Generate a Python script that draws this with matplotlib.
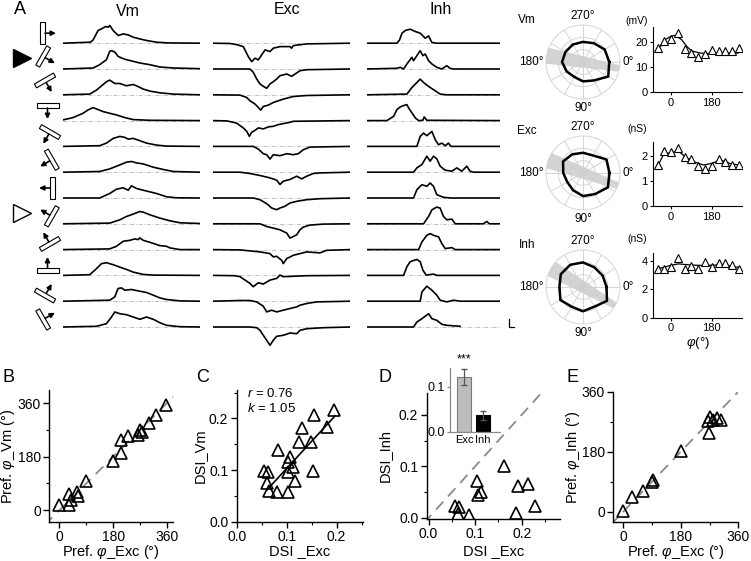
import numpy as np
import matplotlib.pyplot as plt
from matplotlib.patches import Polygon
from matplotlib.ticker import MultipleLocator

plt.rcParams['font.family'] = ['Liberation Sans', 'DejaVu Sans']
plt.rcParams['mathtext.fontset'] = 'custom'
plt.rcParams['mathtext.it'] = 'Liberation Sans:italic'
plt.rcParams['mathtext.rm'] = 'Liberation Sans'

W, H = 751, 561

# ---------------- data ----------------
directions = [0, 30, 60, 90, 120, 150, 180, 210, 240, 270, 300, 330]

# traces: (normalized time, amplitude) keypoints per stimulus direction
vm_traces = [
    [(0, 0), (0.2, 1), (0.22, 3.3), (0.256, 12.7), (0.28, 14.3), (0.312, 16.7), (0.33, 16), (0.342, 17.7), (0.366, 12.7), (0.403, 7.7), (0.44, 9.3), (0.476, 8.3), (0.512, 6), (0.56, 4.3), (0.61, 2.7), (0.683, 1), (0.76, 0.3), (1, 0)],
    [(0, 0), (0.22, 1), (0.268, 4.3), (0.317, 9.3), (0.341, 17.7), (0.354, 18.3), (0.378, 17), (0.402, 12.7), (0.427, 11), (0.463, 9.3), (0.512, 7.7), (0.561, 6), (0.634, 4.3), (0.707, 2), (0.805, 1), (1, 0.3)],
    [(0, 0), (0.195, 0.7), (0.244, 4.7), (0.293, 10.3), (0.317, 13), (0.341, 14.7), (0.378, 11.3), (0.415, 11.3), (0.463, 9), (0.512, 10.3), (0.537, 9), (0.585, 5.7), (0.634, 3.7), (0.707, 2), (0.805, 0.7), (1, 0)],
    [(0, 0.7), (0.073, 3), (0.146, 7.3), (0.183, 10.7), (0.22, 13), (0.244, 11.7), (0.293, 9), (0.341, 7.3), (0.39, 5.7), (0.451, 3), (0.512, 1), (0.634, 0.3), (1, 0)],
    [(0, 0), (0.268, 0.7), (0.317, 3.3), (0.366, 8), (0.415, 10), (0.451, 9), (0.476, 7.3), (0.512, 8), (0.561, 5.7), (0.61, 3.3), (0.683, 1.3), (0.756, 0.3), (1, 0)],
    [(0, 0), (0.268, 0.7), (0.341, 3.3), (0.415, 7.3), (0.463, 10), (0.5, 10.7), (0.537, 9.3), (0.585, 8.3), (0.659, 5), (0.732, 2.7), (0.805, 0.7), (1, 0)],
    [(0, 0), (0.268, 0), (0.341, 4.5), (0.39, 8.8), (0.439, 10.2), (0.476, 7.8), (0.5, 12.2), (0.537, 9.5), (0.585, 7.8), (0.683, 4.5), (0.756, 1.2), (0.83, 0.2), (1, 0)],
    [(0, 0), (0.341, 0.7), (0.415, 4), (0.463, 7.3), (0.512, 9.7), (0.561, 12.3), (0.585, 11.7), (0.634, 9), (0.707, 5.7), (0.78, 3), (0.854, 1), (1, 0.3)],
    [(0, 0), (0.341, 0.7), (0.39, 3.3), (0.439, 8.3), (0.488, 9.3), (0.524, 10.7), (0.549, 10), (0.561, 11.7), (0.585, 9.3), (0.634, 7.3), (0.707, 4), (0.756, 3.3), (0.78, 1.7), (0.854, 0), (1, 0)],
    [(0, 0), (0.195, 0.7), (0.244, 6.7), (0.28, 11.7), (0.317, 12.7), (0.366, 10.7), (0.415, 8.3), (0.463, 6), (0.512, 3.3), (0.585, 1), (0.659, 0.3), (1, 0)],
    [(0, 0), (0.341, 1), (0.378, 4.3), (0.402, 12.7), (0.427, 13.3), (0.451, 11), (0.5, 11.7), (0.561, 10), (0.61, 8.7), (0.659, 6), (0.707, 3.3), (0.756, 1.7), (0.854, 0.3), (1, 0)],
    [(0, 0), (0.244, 0.7), (0.317, 3.3), (0.354, 10), (0.378, 15), (0.415, 13.3), (0.463, 12.3), (0.512, 10), (0.561, 7.7), (0.61, 10), (0.659, 7.7), (0.707, 4.3), (0.756, 1.7), (0.854, 0.3), (1, 0)],
]

exc_traces = [
    [(0, 0), (0.124, -0.3), (0.175, -1.5), (0.221, -3.4), (0.258, -13.5), (0.282, -18.4), (0.307, -15), (0.331, -16.7), (0.355, -11.7), (0.38, -6.7), (0.416, -8.4), (0.44, -5), (0.489, -3.4), (0.562, -3.4), (0.574, -5), (0.586, -2.4), (0.684, -0.7), (1, 0)],
    [(0, 0), (0.27, 0), (0.294, -3.3), (0.319, -10), (0.343, -15), (0.367, -17.3), (0.392, -19.3), (0.416, -15), (0.44, -12.7), (0.465, -10), (0.489, -6.7), (0.538, -5), (0.574, -7.3), (0.599, -5), (0.635, -1.7), (0.684, -0.7), (1, 0)],
    [(0, 0), (0.197, -0.3), (0.246, -2.7), (0.27, -6), (0.307, -9.3), (0.331, -12.7), (0.348, -15.3), (0.367, -11.7), (0.404, -10.3), (0.44, -7.7), (0.477, -6), (0.513, -4.3), (0.586, -1.7), (0.684, -0.7), (1, 0)],
    [(0, 0), (0.1, -0.3), (0.148, -1.7), (0.175, -2.7), (0.197, -5), (0.221, -7.3), (0.246, -10.7), (0.265, -15.7), (0.282, -11.7), (0.307, -9.7), (0.331, -7.3), (0.367, -8.3), (0.404, -6.3), (0.44, -5.7), (0.477, -4), (0.513, -3), (0.562, -1.7), (0.586, -0.7), (1, 0)],
    [(0, 0), (0.294, 0), (0.331, -2.7), (0.367, -7.3), (0.392, -8.3), (0.416, -12.7), (0.44, -8.3), (0.489, -9.3), (0.538, -7.3), (0.586, -8.3), (0.623, -7.3), (0.659, -3.3), (0.708, -0.7), (1, 0)],
    [(0, 0), (0.197, 0), (0.27, -1.3), (0.343, -3.3), (0.416, -5.7), (0.465, -8), (0.489, -12.3), (0.513, -9), (0.562, -7.3), (0.611, -4), (0.647, -6.7), (0.684, -4), (0.732, -1.3), (0.781, -0.7), (1, 0)],
    [(0, 0), (0.294, 0), (0.343, -1.7), (0.392, -5.7), (0.428, -10), (0.465, -11.7), (0.489, -10), (0.525, -8.3), (0.562, -5), (0.611, -3.3), (0.684, -1.7), (0.781, -0.7), (1, 0)],
    [(0, 0), (0.343, 0), (0.392, -2.7), (0.44, -4.3), (0.489, -6), (0.538, -9.3), (0.562, -14.3), (0.586, -12.7), (0.611, -11), (0.635, -6), (0.659, -3.3), (0.708, -1.3), (0.805, -0.3), (1, 0)],
    [(0, 0), (0.197, -0.3), (0.27, -1.3), (0.343, -2.3), (0.416, -4), (0.44, -7.3), (0.465, -6.7), (0.501, -10.7), (0.513, -14), (0.538, -9), (0.586, -5.7), (0.635, -4), (0.684, -2.3), (0.781, -3.3), (0.83, -0.7), (1, 0)],
    [(0, 0), (0.16, -0.3), (0.197, -1.3), (0.234, -4.7), (0.27, -8), (0.294, -11.3), (0.331, -7.3), (0.367, -8.7), (0.416, -4.7), (0.465, -3), (0.489, 0.3), (0.513, -1.3), (0.684, -0.3), (1, 0)],
    [(0, 0), (0.197, 0.7), (0.27, 0.7), (0.319, -0.7), (0.367, -5), (0.392, -10.7), (0.428, -9), (0.465, -10.7), (0.513, -9), (0.562, -7.3), (0.611, -5.7), (0.635, -4), (0.684, -2.3), (0.757, -0.7), (1, 0)],
    [(0, 0), (0.27, 0), (0.319, -0.7), (0.343, -3.3), (0.367, -8.3), (0.392, -13.3), (0.416, -18.3), (0.44, -13.3), (0.465, -9.3), (0.513, -8.3), (0.562, -6), (0.611, -6.7), (0.635, -3.3), (0.684, -1.7), (0.805, -0.7), (1, 0)],
]

inh_traces = [
    [(0, 0), (0.225, 0), (0.245, 3.3), (0.263, 10), (0.288, 12.7), (0.325, 14), (0.363, 11.7), (0.4, 10), (0.438, 5), (0.463, 7.3), (0.488, 0.7), (0.525, 0), (1, 0)],
    [(0, 0), (0.225, 0.7), (0.25, 1.7), (0.275, 0), (0.3, 5), (0.338, 11.7), (0.35, 8.3), (0.375, 13.3), (0.4, 18.3), (0.42, 13.3), (0.438, 15), (0.463, 8.3), (0.488, 5), (0.525, 1.7), (0.563, 0), (0.6, 3.3), (0.625, 0.7), (0.65, 0), (1, 0)],
    [(0, 0), (0.3, 0.7), (0.338, 7.3), (0.375, 12.3), (0.4, 15.7), (0.425, 12.3), (0.45, 9.7), (0.475, 7.3), (0.513, 4), (0.55, 0.7), (0.6, 0), (1, 0)],
    [(0, 0), (0.15, 0), (0.2, 4.3), (0.225, 11), (0.25, 13.7), (0.275, 15), (0.3, 16), (0.313, 12.7), (0.338, 7.7), (0.363, 2.7), (0.388, 0), (0.42, 0.3), (0.43, 3.7), (0.45, 0.3), (1, 0)],
    [(0, 0), (0.375, 0), (0.4, 10), (0.425, 13.3), (0.45, 10.7), (0.488, 15), (0.513, 6.7), (0.538, 1.7), (0.563, 3.3), (0.588, 0.7), (0.613, 3.3), (0.63, 0), (1, 0)],
    [(0, 0), (0.35, 0), (0.375, 4.3), (0.413, 7.7), (0.45, 16), (0.475, 11), (0.5, 16), (0.525, 13.3), (0.55, 6), (0.588, 2), (0.638, 1), (0.675, 4.3), (0.713, 1), (0.75, 6), (0.775, 1), (0.8, 0), (1, 0)],
    [(0, 0), (0.35, 0), (0.375, 8.3), (0.413, 13.3), (0.45, 11.7), (0.475, 15), (0.5, 11.7), (0.525, 3.3), (0.575, 0.7), (0.63, 0), (1, 0)],
    [(0, 0), (0.425, 0), (0.463, 7.3), (0.488, 14), (0.525, 16.7), (0.55, 15.7), (0.575, 7.3), (0.6, 4), (0.638, 4.7), (0.663, 0), (0.875, 0), (0.9, 2.3), (0.92, 0), (1, 0)],
    [(0, 0), (0.388, 0), (0.413, 7.7), (0.45, 14.3), (0.475, 16), (0.5, 14.3), (0.538, 12.7), (0.563, 6), (0.588, 1), (0.638, 2), (0.663, 0), (1, 0)],
    [(0, 0), (0.275, 0), (0.3, 8.7), (0.325, 13.7), (0.375, 16), (0.4, 13.7), (0.42, 5.3), (0.445, 0.3), (0.5, 1.3), (0.525, 0), (1, 0)],
    [(0, 0), (0.4, 0), (0.413, 9.3), (0.45, 15), (0.488, 11), (0.525, 6), (0.55, 1), (0.6, -0.7), (0.65, 1), (0.7, 0), (1, 0)],
    [(0, 0), (0.35, 0), (0.375, 5), (0.413, 8.3), (0.463, 13.3), (0.488, 8.3), (0.525, 6.7), (0.563, 2.7), (0.6, 1.7), (0.7, 0.7)],
]

# tuning values at directions 0..330
vm_tuning = [21.3, 23.6, 17.3, 15.7, 14.0, 15.3, 17.0, 16.4, 16.4, 16.3, 17.6, 20.3]
exc_tuning = [2.15, 2.33, 1.97, 1.87, 1.61, 1.47, 1.60, 1.87, 1.75, 1.64, 1.64, 2.20]
inh_tuning = [3.56, 4.19, 3.44, 3.67, 3.44, 3.95, 3.56, 3.88, 3.88, 3.72, 3.44, 3.44]
tuning_phi = [-60, -30, 0, 30, 60, 90, 120, 150, 180, 210, 240, 270, 300]

vm_fit_x = [-59, -27, 0, 18, 47, 69, 91, 128, 180, 232, 298]
vm_fit_y = [16.7, 20.9, 22.3, 22.7, 20.9, 18.3, 16.4, 15.6, 15.3, 15.6, 15.6]
exc_fit_x = [-59, -31, 0, 32, 62, 99, 143, 180, 217, 261, 298]
exc_fit_y = [1.60, 2.10, 2.13, 2.20, 1.97, 1.77, 1.64, 1.70, 1.84, 1.70, 1.64]
inh_fit_x = [-59, 0, 32, 90, 150, 232, 298]
inh_fit_y = [3.45, 3.70, 3.80, 3.72, 3.68, 3.75, 3.55]

# preferred axis of the shaded band in polar plots (deg)
band_dirs = [10, 20, 30]

# B: preferred direction Vm vs Exc
b_exc = [0, 31, 31, 40, 60, 62, 90, 180, 208, 208, 229, 262, 271, 277, 300, 325, 357]
b_vm = [17, 17, 55, 34, 62, 48, 98, 166, 194, 236, 250, 252, 270, 262, 293, 321, 355]

# C: DSI Vm vs DSI Exc
c_exc = [0.055, 0.063, 0.060, 0.065, 0.081, 0.102, 0.082, 0.107, 0.103, 0.113,
         0.102, 0.117, 0.124, 0.148, 0.130, 0.152, 0.180, 0.155, 0.195]
c_vm = [0.099, 0.096, 0.075, 0.060, 0.058, 0.058, 0.139, 0.125, 0.116, 0.106,
        0.096, 0.079, 0.155, 0.155, 0.181, 0.099, 0.184, 0.206, 0.216]
c_fit_k, c_fit_b = 1.05, -0.002
c_fit_range = [0.06, 0.197]

# D: DSI Inh vs DSI Exc
d_exc = [0.161, 0.104, 0.105, 0.113, 0.056, 0.066, 0.064, 0.086, 0.191, 0.213, 0.188, 0.228]
d_inh = [0.100, 0.072, 0.045, 0.050, 0.024, 0.021, 0.008, 0.006, 0.062, 0.066, 0.010, 0.024]
inset_labels = ['Exc', 'Inh']
inset_mean = [0.121, 0.037]
inset_err = [0.017, 0.010]

# E: preferred direction Inh vs Exc
e_exc = [0, 28, 61, 89, 92, 181, 269, 265, 272, 282, 292, 306]
e_inh = [3, 45, 63, 90, 95, 183, 235, 272, 285, 276, 280, 275]

# ---------------- figure ----------------
fig = plt.figure(figsize=(W / 100, H / 100), dpi=100)


def px_axes(x0, y0, x1, y1, **kw):
    ax = fig.add_axes([x0 / W, 1 - y1 / H, (x1 - x0) / W, (y1 - y0) / H], **kw)
    ax.patch.set_alpha(0)
    return ax


def px_text(x, y, s, **kw):
    kw.setdefault('ha', 'center')
    kw.setdefault('va', 'center')
    fig.text(x / W, 1 - y / H, s, **kw)


# overlay in pixel units for stimulus icons and markers
ov = px_axes(0, 0, W, H)
ov.set_xlim(0, W)
ov.set_ylim(H, 0)
ov.axis('off')

row_base0, row_gap = 43.2, 25.8

for i, d in enumerate(directions):
    a = np.deg2rad(d)
    u = np.array([np.cos(a), np.sin(a)])
    p = np.array([-u[1], u[0]])
    c = np.array([47.5, row_base0 + i * row_gap - 10])
    bc = c - 5 * u
    corners = [bc + 11 * p + 2.2 * u, bc - 11 * p + 2.2 * u, bc - 11 * p - 2.2 * u, bc + 11 * p - 2.2 * u]
    ov.add_patch(Polygon(corners, closed=True, facecolor='white', edgecolor='k', lw=0.8))
    ov.annotate('', xy=c + 8.5 * u, xytext=c - 2.5 * u,
                arrowprops=dict(arrowstyle='-|>', color='k', lw=1.2, mutation_scale=7,
                                shrinkA=0, shrinkB=0))

ov.plot([22], [58], marker='>', ms=13, color='k')
ov.plot([22], [213], marker='>', ms=13, mfc='white', mec='k', mew=1.0)
ov.plot([509, 509, 514], [319, 327, 327], color='k', lw=0.9)

px_text(19.5, 10, 'A', fontsize=13)
px_text(128, 11, 'Vm', fontsize=11.5)
px_text(287, 10, 'Exc', fontsize=11.5)
px_text(441, 10, 'Inh', fontsize=11.5)


def draw_traces(x0, x1, traces):
    ax = px_axes(x0, 20, x1, 350)
    ax.set_xlim(0, 1)
    ax.set_ylim(350, 20)
    ax.axis('off')
    for i, tr in enumerate(traces):
        base = row_base0 + i * row_gap
        ax.plot([0, 1], [base, base], color='#b5b5b5', lw=0.6, ls=(0, (5, 2, 1, 2)))
        t, amp = zip(*tr)
        ax.plot(t, base - np.array(amp), color='k', lw=1.2)


draw_traces(63, 200, vm_traces)
draw_traces(213, 350, exc_traces)
draw_traces(367, 500, inh_traces)


def draw_polar(cy, values, rmax, band_dir, name):
    ax = px_axes(546, cy - 37, 620, cy + 37, projection='polar')
    ax.set_theta_zero_location('E')
    ax.set_theta_direction(-1)
    ax.set_ylim(0, rmax)
    ax.set_xticks(np.deg2rad(directions))
    ax.set_yticks([rmax / 3, 2 * rmax / 3])
    ax.set_xticklabels([])
    ax.set_yticklabels([])
    ax.grid(color='#cfcfcf', lw=0.6)
    ax.spines['polar'].set_color('#cfcfcf')
    ax.spines['polar'].set_linewidth(0.6)
    a = np.deg2rad(band_dir)
    u = np.array([np.cos(a), np.sin(a)])
    v = np.array([-np.sin(a), np.cos(a)])
    pts = [rmax * (cu * u + cv * v) for cu, cv in [(-1.0, -0.22), (-1.0, 0.22), (1.02, 0.09), (1.02, -0.09)]]
    ax.fill([np.arctan2(q[1], q[0]) for q in pts], [np.hypot(q[0], q[1]) for q in pts],
            color='#d4d4d4', lw=0, zorder=1)
    th = np.deg2rad(directions + [directions[0]])
    ax.plot(th, values + [values[0]], color='k', lw=1.8, zorder=3)
    fs = 8.5
    ax.text(np.deg2rad(270), rmax * 1.07, '270°', ha='center', va='bottom', fontsize=fs)
    ax.text(np.deg2rad(90), rmax * 1.07, '90°', ha='center', va='top', fontsize=fs)
    ax.text(np.deg2rad(180), rmax * 1.06, '180°', ha='right', va='center', fontsize=fs)
    ax.text(0, rmax * 1.08, '0°', ha='left', va='center', fontsize=fs)
    px_text(527, cy - 42, name, fontsize=8.5)


draw_polar(62, vm_tuning, 30, band_dirs[0], 'Vm')
draw_polar(173, exc_tuning, 3.0, band_dirs[1], 'Exc')
draw_polar(287, inh_tuning, 5.6, band_dirs[2], 'Inh')


def draw_tuning(y0, y1, values, fit_x, fit_y, ymax, yticks, unit, unit_y, xlabel=False):
    ax = px_axes(653, y0, 742, y1)
    idx = [(p % 360) // 30 for p in tuning_phi]
    vals = np.array(values)[idx]
    ax.plot(fit_x, fit_y, color='k', lw=0.9, zorder=2)
    ax.plot(tuning_phi, vals, ls='none', marker='^', ms=5.5, mfc='white', mec='k', mew=0.8, zorder=3)
    ax.set_xlim(-80, 314)
    ax.set_ylim(0, ymax)
    ax.set_xticks([0, 180])
    ax.set_yticks(yticks)
    for s in ['top', 'right']:
        ax.spines[s].set_visible(False)
    for s in ['left', 'bottom']:
        ax.spines[s].set_linewidth(0.8)
    ax.tick_params(labelsize=8, length=2.5, width=0.8, pad=1.5)
    px_text(637, unit_y, unit, fontsize=7.5)
    if xlabel:
        ax.set_xlabel('$\\varphi$(°)', fontsize=9.5, labelpad=1)


draw_tuning(27, 92, vm_tuning, vm_fit_x, vm_fit_y, 26, [0, 10, 20], '(mV)', 21)
draw_tuning(141.7, 206, exc_tuning, exc_fit_x, exc_fit_y, 2.57, [0, 1, 2], '(nS)', 129)
draw_tuning(253, 317.7, inh_tuning, inh_fit_x, inh_fit_y, 4.57, [0, 2, 4], '(nS)', 239, xlabel=True)


# ---------------- bottom panels ----------------
def style_scatter(ax, xlab, ylab, xlab_y, ylab_x):
    for s in ['top', 'right']:
        ax.spines[s].set_visible(False)
    for s in ['left', 'bottom']:
        ax.spines[s].set_linewidth(1.0)
    ax.tick_params(which='major', labelsize=10, length=4, width=1, pad=2)
    ax.tick_params(which='minor', length=2, width=0.8)
    ax.set_xlabel(xlab, fontsize=10.5, va='center')
    ax.set_ylabel(ylab, fontsize=10.5, va='center', ha='center')
    ax.xaxis.set_label_coords(0.5, xlab_y)
    ax.yaxis.set_label_coords(ylab_x, 0.5)


tri = dict(ls='none', marker='^', ms=9, mfc='none', mec='k', mew=1.2)
phi_lab = 'Pref. $\\varphi$_%s (°)'

axB = px_axes(49.3, 390, 173, 522)
axB.plot([-50, 420], [-50, 420], color='#8a8a8a', lw=1.3, ls=(0, (6, 4)))
axB.plot(b_exc, b_vm, **tri)
axB.set_xlim(-34, 381)
axB.set_ylim(-40, 405)
axB.set_xticks([0, 180, 360])
axB.set_yticks([0, 180, 360])
axB.xaxis.set_minor_locator(MultipleLocator(90))
axB.yaxis.set_minor_locator(MultipleLocator(90))
style_scatter(axB, phi_lab % 'Exc', phi_lab % 'Vm', -0.228, -0.335)

axC = px_axes(236.7, 390, 363, 521.7)
axC.plot(c_exc, c_vm, **tri)
fx = np.array(c_fit_range)
axC.plot(fx, c_fit_k * fx + c_fit_b, color='k', lw=1.2)
axC.set_xlim(0, 0.253)
axC.set_ylim(0, 0.255)
axC.set_xticks([0, 0.1, 0.2])
axC.set_yticks([0, 0.1, 0.2])
axC.set_xticklabels(['0.0', '0.1', '0.2'])
axC.set_yticklabels(['0.0', '0.1', '0.2'])
axC.xaxis.set_minor_locator(MultipleLocator(0.05))
axC.yaxis.set_minor_locator(MultipleLocator(0.05))
style_scatter(axC, 'DSI _Exc', 'DSI_Vm', -0.222, -0.295)
axC.text(0.08, 0.97, '$r$ = 0.76', transform=axC.transAxes, fontsize=9.5, va='center')
axC.text(0.08, 0.86, '$k$ = 1.05', transform=axC.transAxes, fontsize=9.5, va='center')

axD = px_axes(426.7, 393, 560, 519)
axD.plot([-0.01, 0.3], [-0.01, 0.3], color='#8a8a8a', lw=1.3, ls=(0, (6, 4)))
axD.plot(d_exc, d_inh, **tri)
axD.set_xlim(-0.004, 0.282)
axD.set_ylim(-0.002, 0.242)
axD.set_xticks([0, 0.1, 0.2])
axD.set_yticks([0, 0.1, 0.2])
axD.set_xticklabels(['0.0', '0.1', '0.2'])
axD.set_yticklabels(['0.0', '0.1', '0.2'])
axD.xaxis.set_minor_locator(MultipleLocator(0.05))
axD.yaxis.set_minor_locator(MultipleLocator(0.05))
style_scatter(axD, 'DSI _Exc', 'DSI_Inh', -0.254, -0.315)

axI = px_axes(450, 368.3, 500, 432)
axI.bar([0, 1], inset_mean, width=0.74, color=['#bdbdbd', 'k'], edgecolor=['#7a7a7a', 'k'], lw=0.8)
axI.errorbar([0, 1], inset_mean, yerr=inset_err, fmt='none', ecolor='#555555', elinewidth=0.9, capsize=2)
axI.set_xlim(-0.74, 1.89)
axI.set_ylim(0, 0.14)
axI.set_xticks([0, 1])
axI.set_xticklabels(inset_labels)
axI.set_yticks([0, 0.1])
axI.set_yticklabels(['0.0', '0.1'])
for s in ['top', 'right']:
    axI.spines[s].set_visible(False)
for s in ['left', 'bottom']:
    axI.spines[s].set_color('#888888')
    axI.spines[s].set_linewidth(0.9)
axI.tick_params(axis='x', length=0, labelsize=8, pad=2)
axI.tick_params(axis='y', length=2.5, labelsize=9, pad=1, color='#888888')
axI.text(0.0, 0.147, '***', ha='center', va='bottom', fontsize=9)

axE = px_axes(613.3, 391.7, 738.3, 521.7)
axE.plot([-40, 400], [-40, 400], color='#8a8a8a', lw=1.3, ls=(0, (6, 4)))
axE.plot(e_exc, e_inh, **tri)
axE.set_xlim(-31, 360)
axE.set_ylim(-30, 360)
axE.set_xticks([0, 180, 360])
axE.set_yticks([0, 180, 360])
axE.xaxis.set_minor_locator(MultipleLocator(90))
axE.yaxis.set_minor_locator(MultipleLocator(90))
style_scatter(axE, phi_lab % 'Exc', phi_lab % 'Inh', -0.232, -0.325)

px_text(9, 378, 'B', fontsize=13)
px_text(203, 378, 'C', fontsize=13)
px_text(385.5, 377, 'D', fontsize=13)
px_text(572.5, 377, 'E', fontsize=13)

fig.savefig('out.png', dpi=100)
